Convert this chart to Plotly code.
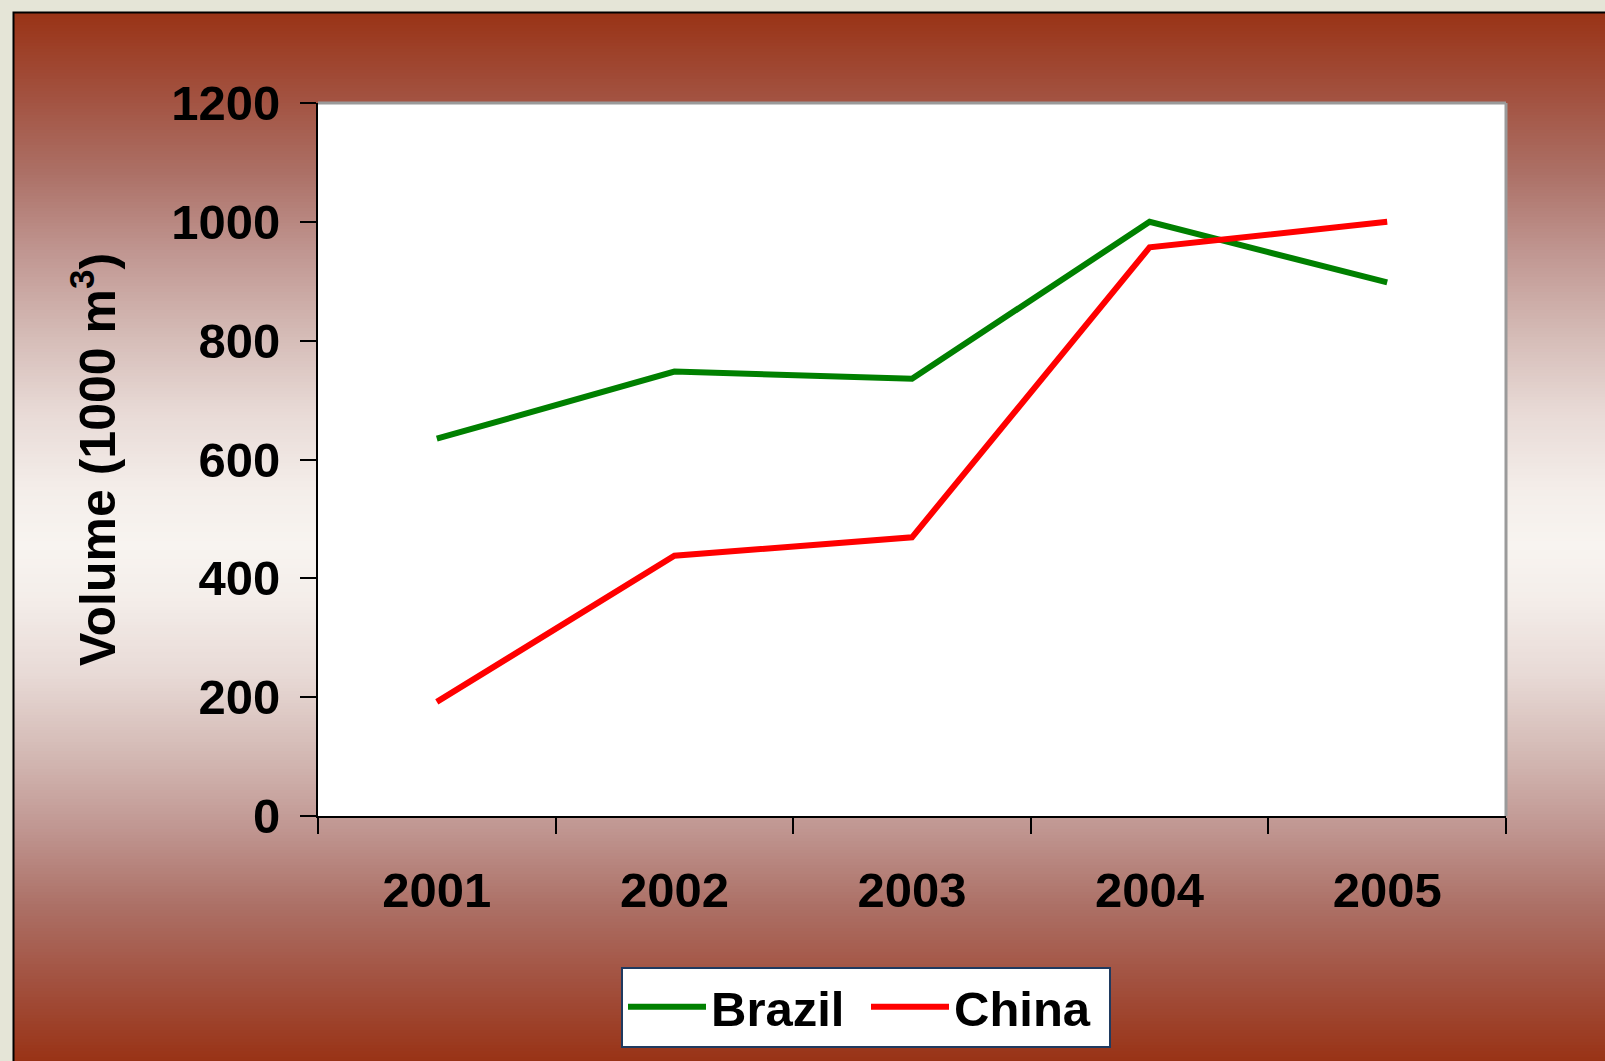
import plotly.graph_objects as go

# ---- data ----
years = ["2001", "2002", "2003", "2004", "2005"]
brazil = [635, 748, 736, 1000, 898]
china = [192, 438, 469, 957, 1000]
y_ticks = [0, 200, 400, 600, 800, 1000, 1200]

# ---- geometry (pixels) ----
W, H = 1605, 1061
L, R, T, B = 318, 1506, 103, 816
pw, ph = R - L, B - T


def px(x):
    return (x - L) / pw


def py(y):
    return (B - y) / ph


# gradient stops: fraction from edge (0) to centre (1)
stops = [(0.0, (153, 51, 22)), (0.15, (162, 80, 62)), (0.3, (172, 112, 102)),
         (0.45, (192, 150, 145)), (0.6, (212, 186, 181)), (0.75, (232, 218, 214)),
         (0.9, (244, 238, 234)), (1.0, (248, 244, 240))]


def grad(t):
    for (t0, c0), (t1, c1) in zip(stops[:-1], stops[1:]):
        if t <= t1:
            f = (t - t0) / (t1 - t0)
            return tuple(round(a + (b - a) * f) for a, b in zip(c0, c1))
    return stops[-1][1]


top, bottom = 13, H
midy = 545

shapes = []
step = 3
y = top
while y < bottom:
    yc = y + step / 2
    if yc < midy:
        t = (yc - top) / (midy - top)
    else:
        t = (bottom - yc) / (bottom - midy)
    c = grad(max(0.0, min(1.0, t)))
    shapes.append(dict(type="rect", xref="paper", yref="paper",
                       x0=px(13), x1=px(W + 5), y0=py(y), y1=py(min(y + step + 1, bottom + 5)),
                       fillcolor="rgb(%d,%d,%d)" % c, line_width=0, layer="below"))
    y += step
shapes.append(dict(type="rect", xref="paper", yref="paper",
                   x0=px(13.5), x1=px(W + 10), y0=py(12.5), y1=py(H + 10),
                   line=dict(color="black", width=2), fillcolor="rgba(0,0,0,0)", layer="below"))
shapes.append(dict(type="rect", xref="paper", yref="paper", x0=0, x1=1, y0=0, y1=1,
                   fillcolor="white", line_width=0, layer="below"))
shapes.append(dict(type="line", xref="paper", yref="paper", x0=0, x1=1, y0=1, y1=1,
                   line=dict(color="#9a9a9a", width=3), layer="below"))
shapes.append(dict(type="line", xref="paper", yref="paper", x0=1, x1=1, y0=0, y1=1,
                   line=dict(color="#9a9a9a", width=3), layer="below"))

family = "Liberation Sans, Arial, sans-serif"
font = dict(family=family, size=49, color="black", weight="bold")
title_font = dict(family=family, size=50, color="black", weight="bold")
legend_font = dict(family=family, size=49, color="black", weight="bold")

fig = go.Figure()
fig.add_trace(go.Scatter(x=years, y=brazil, name="Brazil", mode="lines",
                         line=dict(color="#008000", width=6)))
fig.add_trace(go.Scatter(x=years, y=china, name="China", mode="lines",
                         line=dict(color="#FF0000", width=6)))

fig.update_layout(
    width=W, height=H,
    margin=dict(l=L, r=W - R, t=T, b=H - B, autoexpand=False),
    paper_bgcolor="#E5E5D7",
    plot_bgcolor="rgba(0,0,0,0)",
    font=font,
    shapes=shapes,
    showlegend=True,
    legend=dict(orientation="h", x=px(866), xanchor="center", y=py(1007), yanchor="middle",
                bgcolor="white", bordercolor="#1F3A60", borderwidth=2, font=legend_font,
                itemwidth=78, entrywidth=150, entrywidthmode="pixels"),
    xaxis=dict(type="category", range=[-0.5, 4.5], tickson="boundaries",
               showline=True, linecolor="black", linewidth=2,
               ticks="outside", ticklen=16, tickwidth=2, tickcolor="black",
               showgrid=False, zeroline=False, ticklabelstandoff=30),
    yaxis=dict(range=[0, 1200], tickvals=y_ticks, showline=True, linecolor="black", linewidth=2,
               ticks="outside", ticklen=16, tickwidth=2, tickcolor="black",
               showgrid=False, zeroline=False, ticklabelstandoff=10,
               title=dict(text="Volume (1000 m<sup>3</sup>)", font=title_font, standoff=40)),
)

fig.write_html("out.html", config={"displayModeBar": False},
               post_script="document.body.style.margin='0';document.body.style.overflow='hidden';")
